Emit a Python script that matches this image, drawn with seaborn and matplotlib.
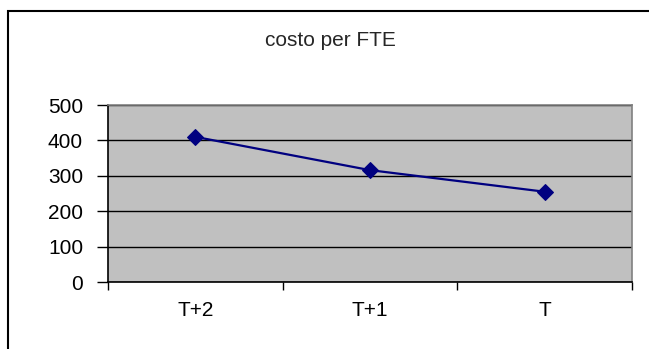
"""Line chart: costo per FTE."""

import matplotlib

matplotlib.use("Agg")
import matplotlib.pyplot as plt
import matplotlib.patches as mpatches
import pandas as pd
import seaborn as sns

periods = ["T+2", "T+1", "T"]
costo = [410, 316, 255]
y_ticks = [0, 100, 200, 300, 400, 500]

NAVY = "#000080"
PLOT_BG = "#C0C0C0"

sns.set_theme(style="white")
plt.rcParams["font.family"] = ["Liberation Sans", "DejaVu Sans"]

data = pd.DataFrame({"period": periods, "costo": costo})

fig = plt.figure(figsize=(6.49, 3.49), dpi=100)
ax = fig.add_axes([108 / 649, 67 / 349, 524 / 649, 177 / 349])
ax.set_facecolor(PLOT_BG)

sns.lineplot(
    data=data,
    x="period",
    y="costo",
    marker="D",
    markersize=8,
    color=NAVY,
    linewidth=1.6,
    markeredgecolor=NAVY,
    ax=ax,
)

ax.set_xlim(-0.5, len(periods) - 0.5)
ax.set_ylim(0, 500)
ax.set_yticks(y_ticks)
ax.set_xlabel("")
ax.set_ylabel("")
ax.grid(axis="y", color="black", linewidth=1)
ax.set_axisbelow(True)

# category labels centred, tick marks on category boundaries (Excel style)
ax.set_xticks(range(len(periods)))
ax.set_xticklabels(periods)
ax.set_xticks([i - 0.5 for i in range(len(periods) + 1)], minor=True)
ax.tick_params(axis="x", which="major", length=0, pad=14, labelsize=15, colors="black")
ax.tick_params(axis="x", which="minor", length=6, width=1, color="black", direction="out", bottom=True)
ax.tick_params(axis="y", length=8, width=1, color="black", direction="out", left=True, pad=10,
               labelsize=15, colors="black")

for side in ["left", "bottom"]:
    ax.spines[side].set_color("black")
    ax.spines[side].set_linewidth(1.2)
for side in ["top", "right"]:
    ax.spines[side].set_color("#808080")
    ax.spines[side].set_linewidth(1.2)

fig.text(330 / 649, 1 - 40 / 349, "costo per FTE", ha="center", va="center", fontsize=15)

# outer chart border, clipped by the image on the right and bottom
fig.patches.append(
    mpatches.Rectangle(
        (8 / 649, -0.1), 1.0, 1 - 11 / 349 + 0.1,
        transform=fig.transFigure, fill=False, edgecolor="black", linewidth=1.5,
    )
)

fig.savefig("out.png", dpi=100)
